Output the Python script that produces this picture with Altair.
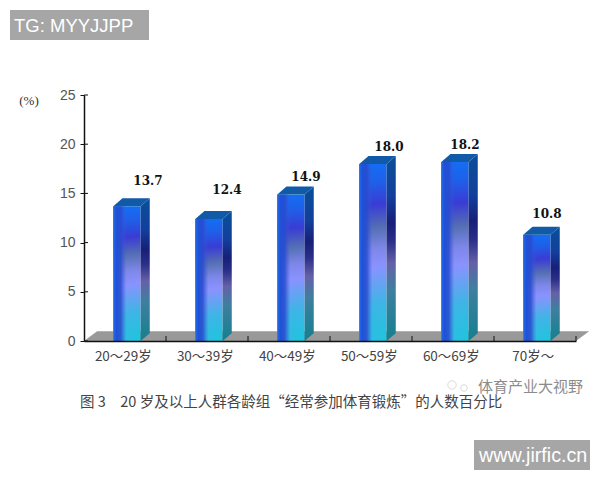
import altair as alt
import pandas as pd

categories = ["20～29岁", "30～39岁", "40～49岁", "50～59岁", "60～69岁", "70岁～"]
values = [13.7, 12.4, 14.9, 18.0, 18.2, 10.8]
value_labels = ["13.7", "12.4", "14.9", "18.0", "18.2", "10.8"]
y_ticks = [0, 5, 10, 15, 20, 25]
x_ticks = [1, 2, 3, 4, 5, 6]

# layout constants
W, H = 492, 246
LEFT, TOP = 84, 95
FRONT_L, FRONT_R = 0.357, 0.69     # bar front face inside a category slot
DX, DY = 0.112, 0.8                # bar depth in data units
FLOOR_DX, FLOOR_DY = 0.16, 1.0
LABEL_NUDGE = [(0, -25), (-3, -29), (-6, -17), (-5, -17), (-11, -17), (-11, -21)]  # px from bar-top centre


def stops(*pairs):
    return [alt.GradientStop(color=c, offset=o) for o, c in pairs]


front = pd.DataFrame({"c": categories, "x": [i + FRONT_L for i in range(6)],
                      "x2": [i + FRONT_R for i in range(6)], "v": values})
side = pd.DataFrame([r for i, v in enumerate(values) for r in (
    {"c": categories[i], "x": i + FRONT_R, "y": 0, "y2": v},
    {"c": categories[i], "x": i + FRONT_R + DX, "y": DY, "y2": v + DY})])
top = pd.DataFrame([r for i, v in enumerate(values) for r in (
    {"c": categories[i], "y": v, "x": i + FRONT_L, "x2": i + FRONT_R},
    {"c": categories[i], "y": v + DY, "x": i + FRONT_L + DX, "x2": i + FRONT_R + DX})])
floor_df = pd.DataFrame({"y": [0, FLOOR_DY], "x": [0, FLOOR_DX], "x2": [6, 6 + FLOOR_DX]})

X = alt.Scale(domain=[0, 6], nice=False, zero=False)
Y = alt.Scale(domain=[0, 25], nice=False, zero=False)
x_axis = alt.Axis(labels=False, ticks=False, grid=False, domainColor="#111111", domainWidth=1.5, zindex=1)
y_axis = alt.Axis(values=y_ticks, grid=False, tickSize=4, tickColor="#111111", domainColor="#111111",
                  domainWidth=1.5, labelFont="Liberation Sans", labelFontSize=14, labelColor="#555555",
                  labelPadding=5, zindex=1)
xq = lambda: alt.X("x:Q", scale=X, title=None, axis=x_axis)
yq = lambda: alt.Y("y:Q", scale=Y, title=None, axis=y_axis)

floor = alt.Chart(floor_df).mark_area(orient="horizontal", color="#999999").encode(
    x=xq(), x2="x2:Q", y=yq())

radial = alt.RadialGradient(
    gradient="radial", x1=0.6, y1=1.0, r1=0, x2=0.6, y2=1.0, r2=1.02,
    stops=stops((0, "#1cc6dc"), (0.22, "#3fb4e6"), (0.42, "#8a92ff"), (0.52, "#7d86e8"),
                (0.63, "#5570b4"), (0.76, "#3a3cd4"), (0.88, "#1f5fe8"), (1, "#1270f6")))
front_base = alt.Chart(front).mark_rect(color=radial).encode(
    x=alt.X("x:Q", scale=X, title=None, axis=x_axis), x2="x2:Q",
    y=alt.Y("v:Q", scale=Y, title=None, axis=y_axis), y2=alt.datum(0))
edge = alt.LinearGradient(
    gradient="linear", x1=0, y1=0, x2=1, y2=0,
    stops=stops((0, "rgba(28,110,235,1)"), (0.12, "rgba(32,80,215,1)"), (0.28, "rgba(40,75,205,0.85)"),
                (0.48, "rgba(60,90,220,0)"), (1, "rgba(60,90,220,0)")))
front_edge = alt.Chart(front).mark_rect(color=edge).encode(
    x=alt.X("x:Q", scale=X, title=None, axis=x_axis), x2="x2:Q",
    y=alt.Y("v:Q", scale=Y, title=None, axis=y_axis), y2=alt.datum(0))

side_grad = alt.LinearGradient(
    gradient="linear", x1=0, y1=0, x2=0, y2=1,
    stops=stops((0, "#0a4f98"), (0.22, "#123f9c"), (0.36, "#171f78"), (0.46, "#2a2f88"),
                (0.58, "#6560a8"), (0.72, "#3f7f9f"), (1, "#13808f")))
side_face = alt.Chart(side).mark_area(color=side_grad).encode(
    x=xq(), y=yq(), y2="y2:Q", detail="c:N")
top_face = alt.Chart(top).mark_area(orient="horizontal", color="#115aa8").encode(
    x=xq(), x2="x2:Q", y=yq(), detail="c:N")

y_inner = alt.Chart(pd.DataFrame({"y": y_ticks})).mark_rule(color="#111111").encode(
    y=yq(), x=alt.value(0), x2=alt.value(4))
x_inner = alt.Chart(pd.DataFrame({"x": x_ticks})).mark_rule(color="#111111").encode(
    x=xq(), y=alt.value(H), y2=alt.value(H - 5))

x_labels = alt.Chart(pd.DataFrame({"c": categories, "x": [i + 0.48 for i in range(6)]})).mark_text(
    font="Noto Sans CJK SC", fontSize=13.5, color="#444444").encode(
    x=xq(), y=alt.value(H + 16), text="c:N")

label_layers = []
for i, (t, v) in enumerate(zip(value_labels, values)):
    dx, dy = LABEL_NUDGE[i]
    label_layers.append(
        alt.Chart(pd.DataFrame({"x": [i + 0.5 + 0.28], "y": [v], "t": [t]})).mark_text(
            font="DejaVu Serif", fontSize=12, fontWeight="bold", color="#111111", dx=dx, dy=dy
        ).encode(x=xq(), y=yq(), text="t:N"))

one = alt.Data(values=[{}])


def note(text, px, py, **kw):
    return alt.Chart(one).mark_text(text=text, **kw).encode(
        x=alt.value(px - LEFT), y=alt.value(py - TOP))


def box(x0, x1, y0, y1):
    return alt.Chart(one).mark_rect(color="#a6a6a6").encode(
        x=alt.value(x0 - LEFT), x2=alt.value(x1 - LEFT),
        y=alt.value(y0 - TOP), y2=alt.value(y1 - TOP))


notes = [
    note("(%)", 29, 101, font="Liberation Serif", fontSize=13, color="#333333"),
    note("图 3\u200320 岁及以上人群各龄组“经常参加体育锻炼”的人数百分比", 80, 403, align="left",
         font="Noto Sans CJK SC", fontSize=14.5, color="#444444"),
    note("体育产业大视野", 478, 387, align="left", font="Noto Sans CJK SC", fontSize=15, color="#8c8c8c"),
    box(10, 149, 10, 40),
    note("TG: MYYJJPP", 14, 26, align="left", font="Liberation Sans", fontSize=18.5, color="#ffffff"),
    box(474, 590, 440, 470),
    note("www.jirfic.cn", 479, 456, align="left", font="Liberation Sans", fontSize=19.7, color="#ffffff"),
    alt.Chart(alt.Data(values=[{"a": 0}])).mark_point(size=70, color="#cccccc", strokeWidth=1).encode(
        x=alt.value(452 - LEFT), y=alt.value(385 - TOP)),
    alt.Chart(alt.Data(values=[{"a": 0}])).mark_point(size=45, color="#cccccc", strokeWidth=1).encode(
        x=alt.value(464 - LEFT), y=alt.value(388 - TOP)),
]

chart = alt.layer(
    floor, front_base, front_edge, side_face, top_face, y_inner, x_inner, x_labels,
    *label_layers, *notes
).resolve_scale(x="shared", y="shared").properties(
    width=W, height=H, background="white",
    autosize=alt.AutoSizeParams(type="none"),
    padding={"left": LEFT - 8, "top": TOP - 8, "right": 16, "bottom": 131},
).configure_view(stroke=None)

chart.save("out.html", embed_options={"renderer": "svg", "actions": False})
